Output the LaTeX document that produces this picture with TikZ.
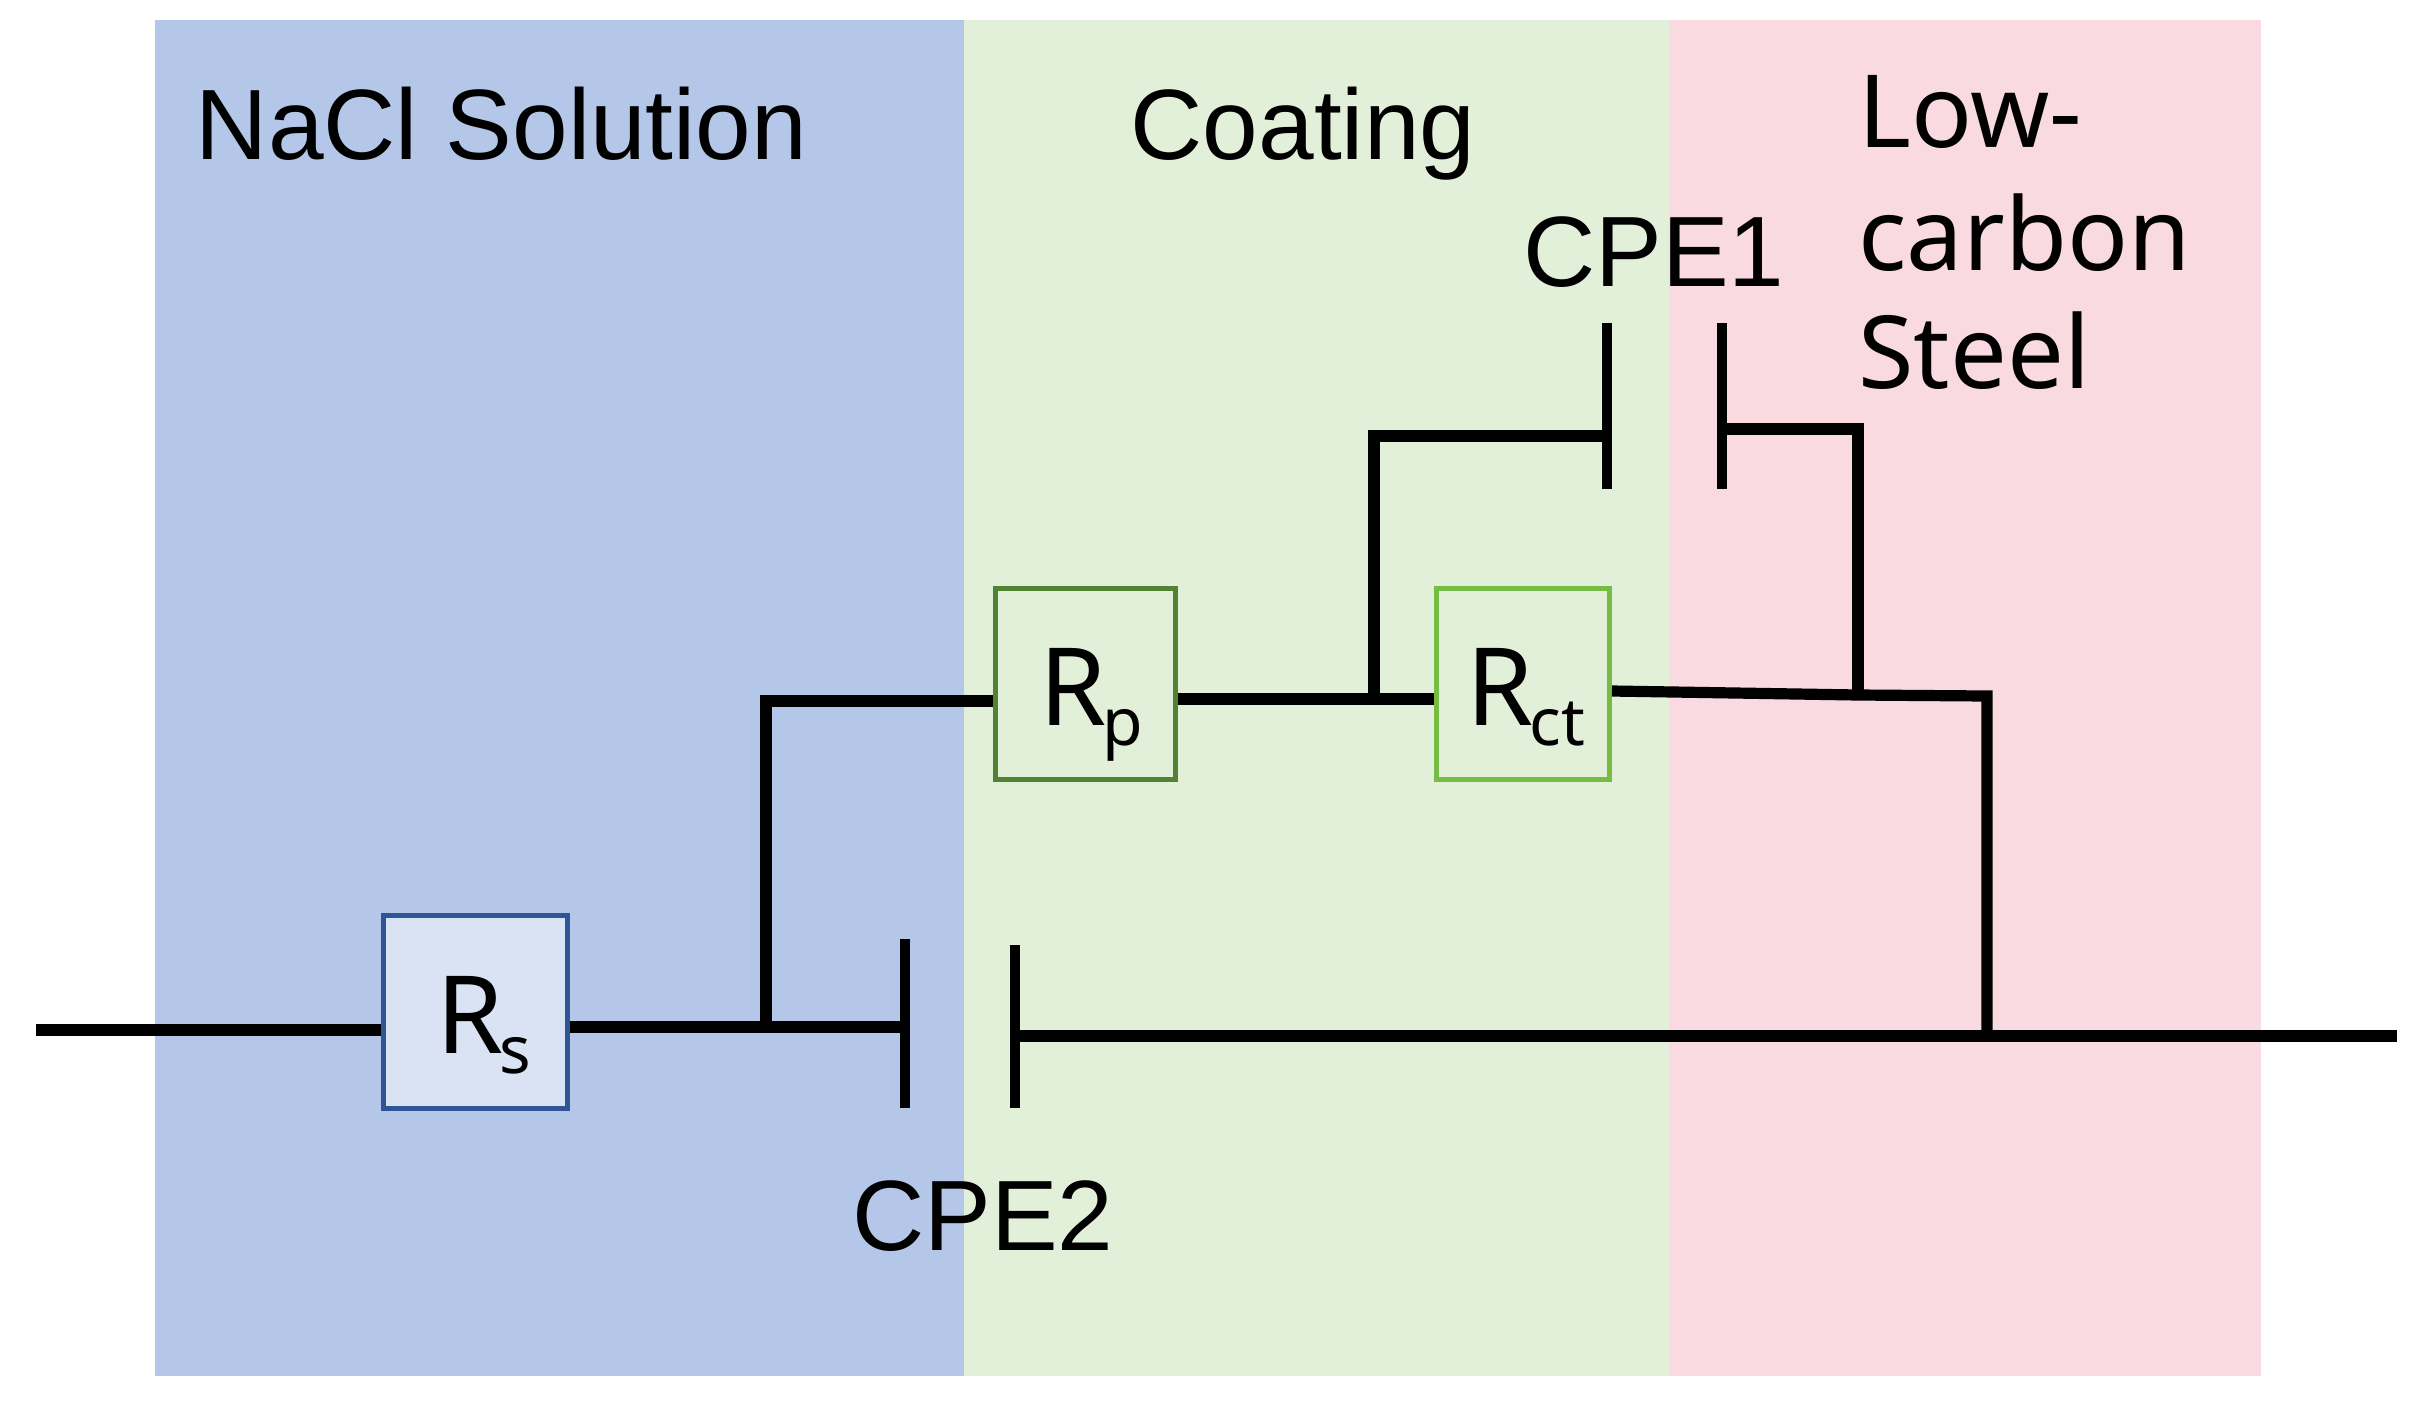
\documentclass[tikz,border=0pt]{standalone}
\usepackage{fontspec}
\setmainfont{Liberation Sans}
\newfontfamily\yh{Noto Sans}
\newcommand{\resist}[3]{{\yh\fontsize{54pt}{60pt}\selectfont\hspace*{#1}#2\raisebox{-10pt}{\fontsize{33pt}{36pt}\selectfont\hspace{-2pt}#3}}}
\definecolor{bandblue}{HTML}{B5C7E8}
\definecolor{bandgreen}{HTML}{E3F0D9}
\definecolor{bandpink}{HTML}{F9DAE0}
\definecolor{rsblue}{HTML}{2F5597}
\definecolor{rsfill}{HTML}{DAE3F3}
\definecolor{rpgreen}{HTML}{548235}
\definecolor{rctgreen}{HTML}{76BC44}
\tikzset{
  x=0.5pt,y=-0.5pt,
  wire/.style={line width=5.6pt,line cap=butt,line join=miter,black},
  plate/.style={line width=5.4pt,line cap=butt,black},
  resbox/.style={draw,line width=2.4pt,inner sep=0pt,text height=41pt,text depth=0pt,align=center},
  lab/.style={inner sep=0pt,font=\fontsize{50pt}{60pt}\selectfont,text=black},
  cjklab/.style={inner sep=0pt,anchor=base west,font=\yh\fontsize{50.5pt}{60pt}\selectfont},
}
\begin{document}
\begin{tikzpicture}
\useasboundingbox (0,0) rectangle (2422,1404);
\fill[bandblue] (155,20) rectangle (964,1376);
\fill[bandgreen] (964,20) rectangle (1669,1376);
\fill[bandpink] (1669,20) rectangle (2261,1376);

\node[lab,anchor=base west] (nacl) at (195.5,159) {NaCl Solution};
\node[lab,anchor=base] (coat) at (1303,159) {Coating};
\node[lab,anchor=base] (cpeone) at (1654,286) {CPE1};
\node[lab,anchor=base] (cpetwo) at (983,1250) {CPE2};
\node[cjklab] (lowa) at (1858,147) {Low-};
\node[cjklab] (lowb) at (1858,270) {carbon};
\node[cjklab] (lowc) at (1858,388) {Steel};

\node[resbox,draw=rsblue,fill=rsfill,minimum width=92.2pt,minimum height=96.7pt] (rs) at (475.5,1012) {\resist{8pt}{R}{s}};
\node[resbox,draw=rpgreen,minimum width=90pt,minimum height=95.7pt] (rp) at (1085.5,684) {\resist{6pt}{R}{p}};
\node[resbox,draw=rctgreen,minimum width=86.7pt,minimum height=95.7pt] (rct) at (1523,684) {\resist{3pt}{R}{ct}};

\coordinate (inl) at (36,1030);
\coordinate (outr) at (2397,1036);
\coordinate (ja) at (766,1027);
\coordinate (jb) at (766,701);
\coordinate (pa) at (905,1027);
\coordinate (pat) at (905,939);
\coordinate (pab) at (905,1108);
\coordinate (pbt) at (1015,945);
\coordinate (pbb) at (1015,1108);
\coordinate (pbm) at (1015,1036);
\coordinate (jc) at (1374,699);
\coordinate (jd) at (1374,436);
\coordinate (pct) at (1607,323);
\coordinate (pcb) at (1607,489);
\coordinate (pcm) at (1607,436);
\coordinate (pdt) at (1722,323);
\coordinate (pdb) at (1722,489);
\coordinate (pdm) at (1722,429);
\coordinate (je) at (1858,429);
\coordinate (jf) at (1858,695);
\coordinate (jg) at (1987,696);
\coordinate (jh) at (1987,1036);
\coordinate (rctout) at (1612,691);

\draw[wire] (inl) -- (rs.west |- inl);
\draw[wire] (rs.east |- pa) -- (pa);
\draw[wire] (ja) -- (jb) -- (rp.west |- jb);
\draw[wire] (rp.east |- jc) -- (rct.west |- jc);
\draw[wire] (jc) -- (jd) -- (pcm);
\draw[wire] (rctout) -- (jf) -- (jg) -- (jh);
\draw[wire] (pdm) -- (je) -- (jf);
\draw[wire] (pbm) -- (outr);
\draw[plate] (pat) -- (pab);
\draw[plate] (pbt) -- (pbb);
\draw[plate] (pct) -- (pcb);
\draw[plate] (pdt) -- (pdb);
\end{tikzpicture}
\end{document}
